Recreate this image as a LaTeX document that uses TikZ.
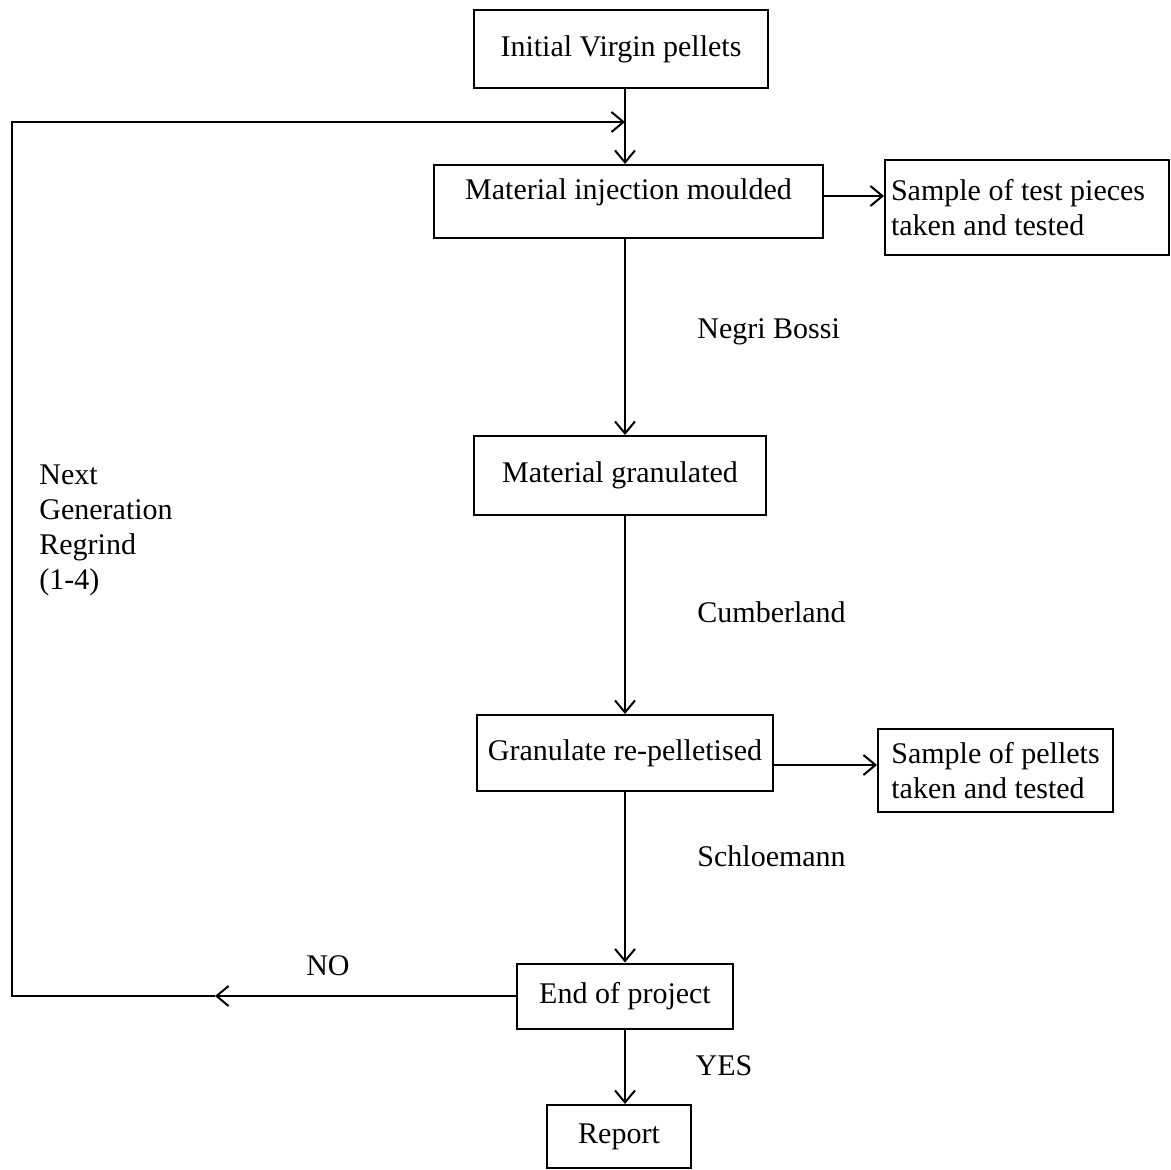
\documentclass[tikz,border=0pt]{standalone}
\usepackage{fontspec}
\setmainfont{Liberation Serif}
\usetikzlibrary{arrows.meta}
\begin{document}
\begin{tikzpicture}[x=0.5pt,y=-0.5pt,
  every node/.style={font=\fontsize{15}{17.5}\selectfont},
  box/.style={draw,line width=1pt,inner sep=0pt},
  conn/.style={line width=1pt,-{Straight Barb[length=6pt,width=10pt,line width=1pt]}},
  lbl/.style={inner sep=0pt,anchor=west}]
\useasboundingbox (0,0) rectangle (1171,1170);
\node[box,minimum width=147pt,minimum height=39pt] (init) at (621,49) {Initial Virgin pellets};
\node[box,minimum width=194.5pt,minimum height=36.5pt,text height=11pt,text depth=12.5pt] (inj) at (628.5,201.5) {Material injection moulded};
\node[box,minimum height=47.5pt,text width=136pt,inner xsep=3pt,align=flush left] (samp1) at (1027,207.5) {Sample of test pieces\\taken and tested};
\node[box,minimum width=146pt,minimum height=39.5pt] (gran) at (620,475.5) {Material granulated};
\node[box,minimum width=148pt,minimum height=38pt] (repel) at (625,753) {Granulate re-pelletised};
\node[box,minimum width=117.5pt,minimum height=41.5pt,align=left] (samp2) at (995.5,770.5) {Sample of pellets\\taken and tested};
\node[box,minimum width=108pt,minimum height=32.5pt] (eop) at (625,996) {End of project};
\node[box,minimum width=72pt,minimum height=31.5pt] (report) at (619,1136.5) {Report};

\node[lbl] (negri) at (697,332) {Negri Bossi};
\node[lbl] (cumb) at (697,612) {Cumberland};
\node[lbl] (schl) at (697,856) {Schloemann};
\node[inner sep=0pt] (no) at (328,966) {NO};
\node[inner sep=0pt] (yes) at (724,1066) {YES};
\node[lbl,align=left] (nextgen) at (39,530) {Next\\Generation\\Regrind\\(1-4)};

\coordinate (loopin) at (625,122);
\coordinate (nomark) at (215,996);

\draw[conn] (init.south -| eop) -- (inj.north -| eop);
\draw[conn] (inj.east |- 0,196) -- (samp1.west |- 0,196);
\draw[conn] (inj.south -| eop) -- (gran.north -| eop);
\draw[conn] (gran.south -| eop) -- (repel.north -| eop);
\draw[conn] (repel.east |- 0,765) -- (samp2.west |- 0,765);
\draw[conn] (repel.south -| eop) -- (eop.north);
\draw[conn] (eop.south) -- (report.north -| eop);
\draw[conn] (eop.west) -- (nomark);
\draw[conn] (nomark) -- (12,996) -- (12,122) -- (loopin);
\end{tikzpicture}
\end{document}
